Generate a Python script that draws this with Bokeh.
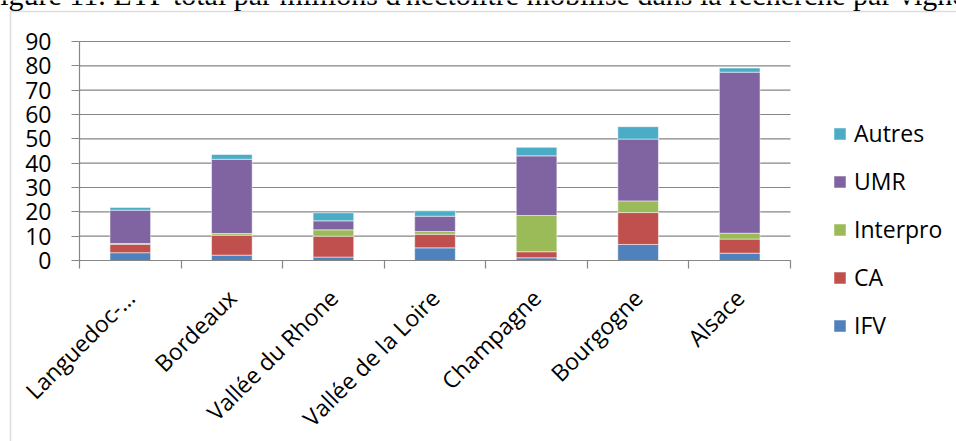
from math import pi
from bokeh.plotting import figure
from bokeh.models import (ColumnDataSource, Range1d, FixedTicker, Legend, LegendItem, Label,
                          BoxAnnotation)
from bokeh.embed import file_html
from bokeh.resources import INLINE

categories = ["Languedoc-…", "Bordeaux", "Vallée du Rhone", "Vallée de la Loire",
              "Champagne", "Bourgogne", "Alsace"]
IFV = [3.2, 2.2, 1.4, 5.2, 1.1, 6.6, 3.0]
CA = [3.5, 8.2, 8.6, 5.6, 2.5, 13.1, 5.8]
Interpro = [0.3, 0.7, 2.6, 1.1, 14.9, 4.8, 2.4]
UMR = [13.7, 30.5, 3.7, 6.3, 24.5, 25.4, 66.2]
Autres = [1.1, 2.0, 3.3, 2.2, 3.5, 5.1, 1.7]
series = ["IFV", "CA", "Interpro", "UMR", "Autres"]
colors = ["#4F81BD", "#C0504D", "#9BBB59", "#8064A2", "#4BACC6"]
y_ticks = list(range(0, 100, 10))
y_max = 90
title_text = "Figure 11. ETP total par millions d'hectolitre mobilisé dans la recherche par vignoble"

FONT = "Open Sans"
GRID = "#868686"
W, H = 956, 441
# pixel layout of the plotting area inside the canvas
PX_LEFT, PX_RIGHT, PX_TOP, PX_BOTTOM = 79, 790, 41, 260

n = len(categories)
xs = [i + 0.5 for i in range(n)]
source = ColumnDataSource(dict(x=xs, IFV=IFV, CA=CA, Interpro=Interpro, UMR=UMR, Autres=Autres))

kx = (PX_RIGHT - PX_LEFT) / n
ky = (PX_BOTTOM - PX_TOP) / y_max
x_range = Range1d(-PX_LEFT / kx, n + (W - PX_RIGHT) / kx)
y_range = Range1d(-(H - PX_BOTTOM) / ky, y_max + PX_TOP / ky)

p = figure(width=W, height=H, output_backend="svg", toolbar_location=None,
           x_range=x_range, y_range=y_range,
           min_border_left=0, min_border_right=0, min_border_top=0, min_border_bottom=0)
p.outline_line_color = None
p.background_fill_color = "white"
p.border_fill_color = "white"
p.xgrid.grid_line_color = None
p.ygrid.grid_line_color = None

# cropped caption (partly hidden behind the chart box, as in the original)
cap = Label(x=-17, y=-6, x_units="canvas", y_units="canvas", text=title_text,
            text_font="Liberation Serif", text_font_size="30px", text_font_style="normal",
            text_color="black", text_baseline="alphabetic", text_align="left",
            level="underlay")
p.add_layout(cap)
# chart box (top & left edges visible)
box = BoxAnnotation(left=10, right=3000, top=11, bottom=3000,
                    left_units="canvas", right_units="canvas", top_units="canvas",
                    bottom_units="canvas", fill_color="white", fill_alpha=1,
                    line_color="#8c8c8c", line_width=1.5, level="underlay")
p.add_layout(box)

# horizontal gridlines, limited to the category span
p.segment(x0=[0] * len(y_ticks), x1=[n] * len(y_ticks), y0=y_ticks, y1=y_ticks,
          line_color=GRID, line_width=1.2)

renderers = p.vbar_stack(series, x="x", width=0.4, source=source, color=colors,
                         line_color="white", line_alpha=0.5, line_width=1)

# axes (drawn at fixed data locations, bounded to the data span)
p.yaxis.fixed_location = 0
p.yaxis.bounds = (0, y_max)
p.yaxis.ticker = FixedTicker(ticks=y_ticks)
p.yaxis.axis_line_color = GRID
p.yaxis.axis_line_width = 1.2
p.yaxis.major_tick_line_color = GRID
p.yaxis.major_tick_line_width = 1.2
p.yaxis.major_tick_out = 8
p.yaxis.major_tick_in = 0
p.yaxis.minor_tick_line_color = None
p.yaxis.major_label_standoff = 20
p.yaxis.major_label_text_font = FONT
p.yaxis.major_label_text_font_size = "23px"
p.yaxis.major_label_text_color = "black"

p.xaxis.fixed_location = 0
p.xaxis.bounds = (0, n)
p.xaxis.ticker = FixedTicker(ticks=xs, minor_ticks=list(range(n + 1)))
p.xaxis.major_label_overrides = {x: c for x, c in zip(xs, categories)}
p.xaxis.major_label_orientation = pi / 4
p.xaxis.axis_line_color = GRID
p.xaxis.axis_line_width = 1.2
p.xaxis.major_tick_line_color = None
p.xaxis.major_tick_out = 0
p.xaxis.major_tick_in = 0
p.xaxis.minor_tick_line_color = GRID
p.xaxis.minor_tick_line_width = 1.2
p.xaxis.minor_tick_out = 8
p.xaxis.minor_tick_in = 0
p.xaxis.major_label_standoff = 25
p.xaxis.major_label_text_font = FONT
p.xaxis.major_label_text_font_size = "23px"
p.xaxis.major_label_text_color = "black"

# legend (reversed order like the original)
items = [LegendItem(label=s, renderers=[r]) for s, r in zip(series, renderers)][::-1]
legend = Legend(items=items, location=(832, 100), orientation="vertical",
                glyph_width=15, glyph_height=15, label_standoff=7, spacing=16,
                padding=0, margin=0, border_line_color=None, background_fill_alpha=0,
                label_text_font=FONT, label_text_font_size="23px", label_text_color="black")
p.add_layout(legend, "center")

open("out.html", "w").write(file_html(p, INLINE))
